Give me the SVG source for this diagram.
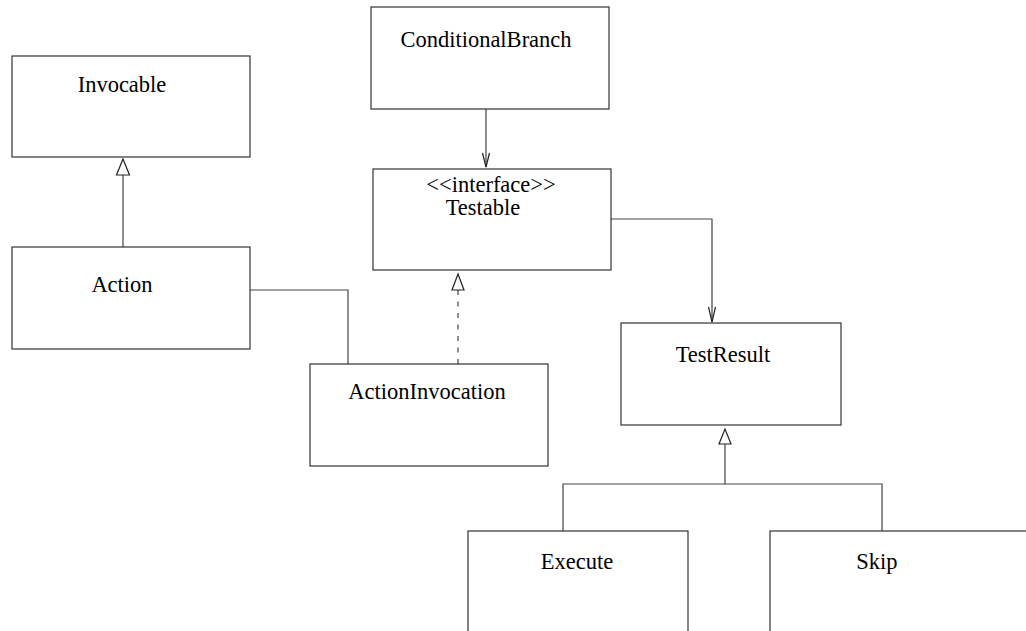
<svg xmlns="http://www.w3.org/2000/svg" width="1026" height="631" viewBox="0 0 1026 631">
<style>
.box{fill:#fff;stroke:#333;stroke-width:1.2}
.lbl{font-family:"Liberation Serif","Times New Roman",serif;font-size:22.5px;fill:#000;text-anchor:middle}
.ln{fill:none;stroke:#444;stroke-width:1.2}
.dash{stroke-dasharray:5 6.5}
.tri{fill:#fff;stroke:#222;stroke-width:1.2}
.open{fill:none;stroke:#222;stroke-width:1.2}
</style>
<rect width="1026" height="631" fill="#fff"/>
<g id="connectors">
  <path class="ln" d="M123,247 V175"/>
  <polygon class="tri" points="123,159 116.5,175 129.5,175"/>
  <path class="ln" d="M486,109 V167"/>
  <path class="open" d="M482.5,153 L486,167 L489.5,153"/>
  <path class="ln" d="M250,290 H348 V364"/>
  <path class="ln dash" d="M458,364 V290"/>
  <polygon class="tri" points="458,274 452,290 464,290"/>
  <path class="ln" d="M611,219 H712 V322"/>
  <path class="open" d="M708.5,307 L712,322 L715.5,307"/>
  <path class="ln" d="M725,444 V484 M563,531 V484 H882 V531"/>
  <polygon class="tri" points="725,429 719,444 731,444"/>
</g>
<g id="Invocable"><rect class="box" x="12" y="56" width="238" height="101"/><text class="lbl" x="122" y="92">Invocable</text></g>
<g id="Action"><rect class="box" x="12" y="247" width="238" height="102"/><text class="lbl" x="122" y="292">Action</text></g>
<g id="ConditionalBranch"><rect class="box" x="371" y="7" width="238" height="102"/><text class="lbl" x="486" y="47">ConditionalBranch</text></g>
<g id="Testable"><rect class="box" x="373" y="169" width="238" height="101"/><text class="lbl" x="491" y="192">&lt;&lt;interface&gt;&gt;</text><text class="lbl" x="483" y="215">Testable</text></g>
<g id="ActionInvocation"><rect class="box" x="310" y="364" width="238" height="102"/><text class="lbl" x="427" y="399">ActionInvocation</text></g>
<g id="TestResult"><rect class="box" x="621" y="323" width="220" height="102"/><text class="lbl" x="723" y="362">TestResult</text></g>
<g id="Execute"><rect class="box" x="468" y="531" width="220" height="110"/><text class="lbl" x="577" y="569">Execute</text></g>
<g id="Skip"><rect class="box" x="770" y="531" width="270" height="110"/><text class="lbl" x="877" y="569">Skip</text></g>
</svg>
